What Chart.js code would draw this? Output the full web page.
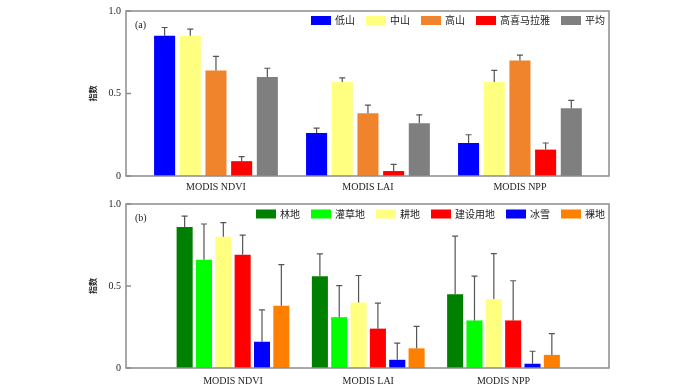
<!DOCTYPE html>
<html>
<head>
<meta charset="utf-8">
<script src="https://cdn.jsdelivr.net/npm/chart.js@4.4.1/dist/chart.umd.min.js"></script>
<style>
    body { margin: 0; background: #fff; }
    #wrap { width: 700px; height: 387px; }
    canvas { display: block; }
</style>
</head>
<body>
<div id="wrap">
    <canvas id="chartA" width="700" height="193"></canvas>
    <canvas id="chartB" width="700" height="194"></canvas>
</div>
<script>
// shared x categories
const indices = ["MODIS NDVI", "MODIS LAI", "MODIS NPP"];
const yTicks = [0, 0.5, 1.0];

// (a) elevation zones
const zoneNames = ["低山", "中山", "高山", "高喜马拉雅", "平均"];
const zoneColors = ["#0000ff", "#ffff80", "#f0842c", "#ff0000", "#7f7f7f"];
const lowMountain = [0.85, 0.26, 0.20];
const midMountain = [0.85, 0.57, 0.57];
const highMountain = [0.64, 0.38, 0.70];
const highHimalaya = [0.09, 0.03, 0.16];
const zoneMean = [0.60, 0.32, 0.41];
const lowMountainErr = [0.05, 0.03, 0.05];
const midMountainErr = [0.04, 0.025, 0.07];
const highMountainErr = [0.085, 0.05, 0.032];
const highHimalayaErr = [0.028, 0.04, 0.04];
const zoneMeanErr = [0.053, 0.05, 0.048];

// (b) land cover
const coverNames = ["林地", "灌草地", "耕地", "建设用地", "冰雪", "裸地"];
const coverColors = ["#008000", "#00ff00", "#ffff80", "#ff0000", "#0000ff", "#ff8000"];
const forest = [0.86, 0.56, 0.45];
const shrubGrass = [0.66, 0.31, 0.29];
const cropland = [0.80, 0.40, 0.42];
const builtUp = [0.69, 0.24, 0.29];
const iceSnow = [0.16, 0.05, 0.026];
const bareLand = [0.38, 0.12, 0.08];
const forestErr = [0.066, 0.136, 0.354];
const shrubGrassErr = [0.218, 0.192, 0.27];
const croplandErr = [0.086, 0.164, 0.278];
const builtUpErr = [0.12, 0.156, 0.242];
const iceSnowErr = [0.194, 0.102, 0.076];
const bareLandErr = [0.25, 0.134, 0.13];

const serif = "'Liberation Serif', 'Times New Roman', serif";
const cjk = "'Noto Sans CJK SC', sans-serif";

// frame, inner ticks, panel letter, in-plot legend and error bars
const decor = {
    id: "decor",
    afterDatasetsDraw(chart, args, opts) {
        const ctx = chart.ctx;
        const y = chart.scales.y;
        ctx.save();
        ctx.strokeStyle = "#555";
        ctx.lineWidth = 1.2;
        chart.data.datasets.forEach((ds, i) => {
            const meta = chart.getDatasetMeta(i);
            meta.data.forEach((bar, j) => {
                const top = y.getPixelForValue(ds.data[j].y + opts.errors[i][j]);
                ctx.beginPath();
                ctx.moveTo(bar.x, bar.y);
                ctx.lineTo(bar.x, top);
                ctx.moveTo(bar.x - 3, top);
                ctx.lineTo(bar.x + 3, top);
                ctx.stroke();
            });
        });
        ctx.restore();
    },
    afterDraw(chart, args, opts) {
        const ctx = chart.ctx;
        const a = chart.chartArea;
        const y = chart.scales.y;
        ctx.save();
        ctx.strokeStyle = "#8c8c8c";
        ctx.lineWidth = 1.5;
        ctx.strokeRect(a.left, a.top, a.right - a.left, a.bottom - a.top);
        y.ticks.forEach(t => {
            const py = y.getPixelForValue(t.value);
            ctx.beginPath();
            ctx.moveTo(a.left, py);
            ctx.lineTo(a.left + 5, py);
            ctx.stroke();
        });

        ctx.fillStyle = "#222";
        ctx.font = "10px " + serif;
        ctx.textBaseline = "middle";
        ctx.textAlign = "left";
        ctx.fillText(opts.panel, a.left + 9, a.top + 14);

        // legend, right aligned inside the plot
        ctx.font = "10px " + cjk;
        const items = chart.data.datasets.map(ds => ({
            label: ds.label, color: ds.backgroundColor, w: 24 + ctx.measureText(ds.label).width
        }));
        const total = items.reduce((s, it) => s + it.w, 0) + (items.length - 1) * 11;
        let x = a.right - 4 - total;
        const cy = a.top + opts.legendY;
        items.forEach(it => {
            ctx.fillStyle = it.color;
            ctx.fillRect(x, cy - 4.5, 20, 9);
            ctx.fillStyle = "#222";
            ctx.fillText(it.label, x + 24, cy);
            x += it.w + 11;
        });
        ctx.restore();
    }
};

function makeChart(id, names, colors, series, errors, opt) {
    const datasets = series.map((vals, i) => ({
        label: names[i],
        data: vals.map((v, j) => ({ x: j, y: v })),
        backgroundColor: colors[i],
        borderWidth: 0,
        categoryPercentage: opt.catPct,
        barPercentage: opt.barPct
    }));

    return new Chart(document.getElementById(id), {
        type: "bar",
        data: { datasets: datasets },
        plugins: [decor],
        options: {
            responsive: false,
            devicePixelRatio: 1,
            animation: false,
            layout: { padding: { left: 80, right: 91, top: 8, bottom: 0 } },
            plugins: {
                legend: { display: false },
                tooltip: { enabled: false },
                decor: { panel: opt.panel, errors: errors, legendY: opt.legendY }
            },
            scales: {
                x: {
                    type: "linear",
                    offset: false,
                    min: opt.xMin,
                    max: opt.xMax,
                    grid: { display: false, drawTicks: false, offset: false },
                    border: { display: false },
                    afterBuildTicks: s => { s.ticks = indices.map((_, i) => ({ value: i })); },
                    afterFit: s => { s.height = opt.xHeight; },
                    ticks: {
                        autoSkip: false,
                        maxRotation: 0,
                        padding: opt.xPad,
                        color: "#222",
                        font: { family: serif, size: 10 },
                        callback: v => indices[v]
                    }
                },
                y: {
                    min: 0,
                    max: 1,
                    grid: { display: false, drawTicks: false },
                    border: { display: false },
                    afterBuildTicks: s => { s.ticks = yTicks.map(v => ({ value: v })); },
                    afterFit: s => { s.width = 46; },
                    ticks: {
                        padding: 5,
                        color: "#222",
                        font: { family: serif, size: 10 },
                        callback: v => (v === 0 ? "0" : v.toFixed(1))
                    },
                    title: {
                        display: true,
                        text: "指数",
                        color: "#222",
                        padding: { top: 8, bottom: 0 },
                        font: { family: cjk, size: 8, weight: "bold" }
                    }
                }
            }
        }
    });
}

makeChart("chartA", zoneNames, zoneColors,
    [lowMountain, midMountain, highMountain, highHimalaya, zoneMean],
    [lowMountainErr, midMountainErr, highMountainErr, highHimalayaErr, zoneMeanErr],
    { panel: "(a)", catPct: 0.845, barPct: 0.82, xMin: -0.592, xMax: 2.586, xHeight: 17, xPad: 5, legendY: 9.5 });

makeChart("chartB", coverNames, coverColors,
    [forest, shrubGrass, cropland, builtUp, iceSnow, bareLand],
    [forestErr, shrubGrassErr, croplandErr, builtUpErr, iceSnowErr, bareLandErr],
    { panel: "(b)", catPct: 0.858, barPct: 0.83, xMin: -0.791, xMax: 2.78, xHeight: 19, xPad: 7, legendY: 10 });
</script>
</body>
</html>
